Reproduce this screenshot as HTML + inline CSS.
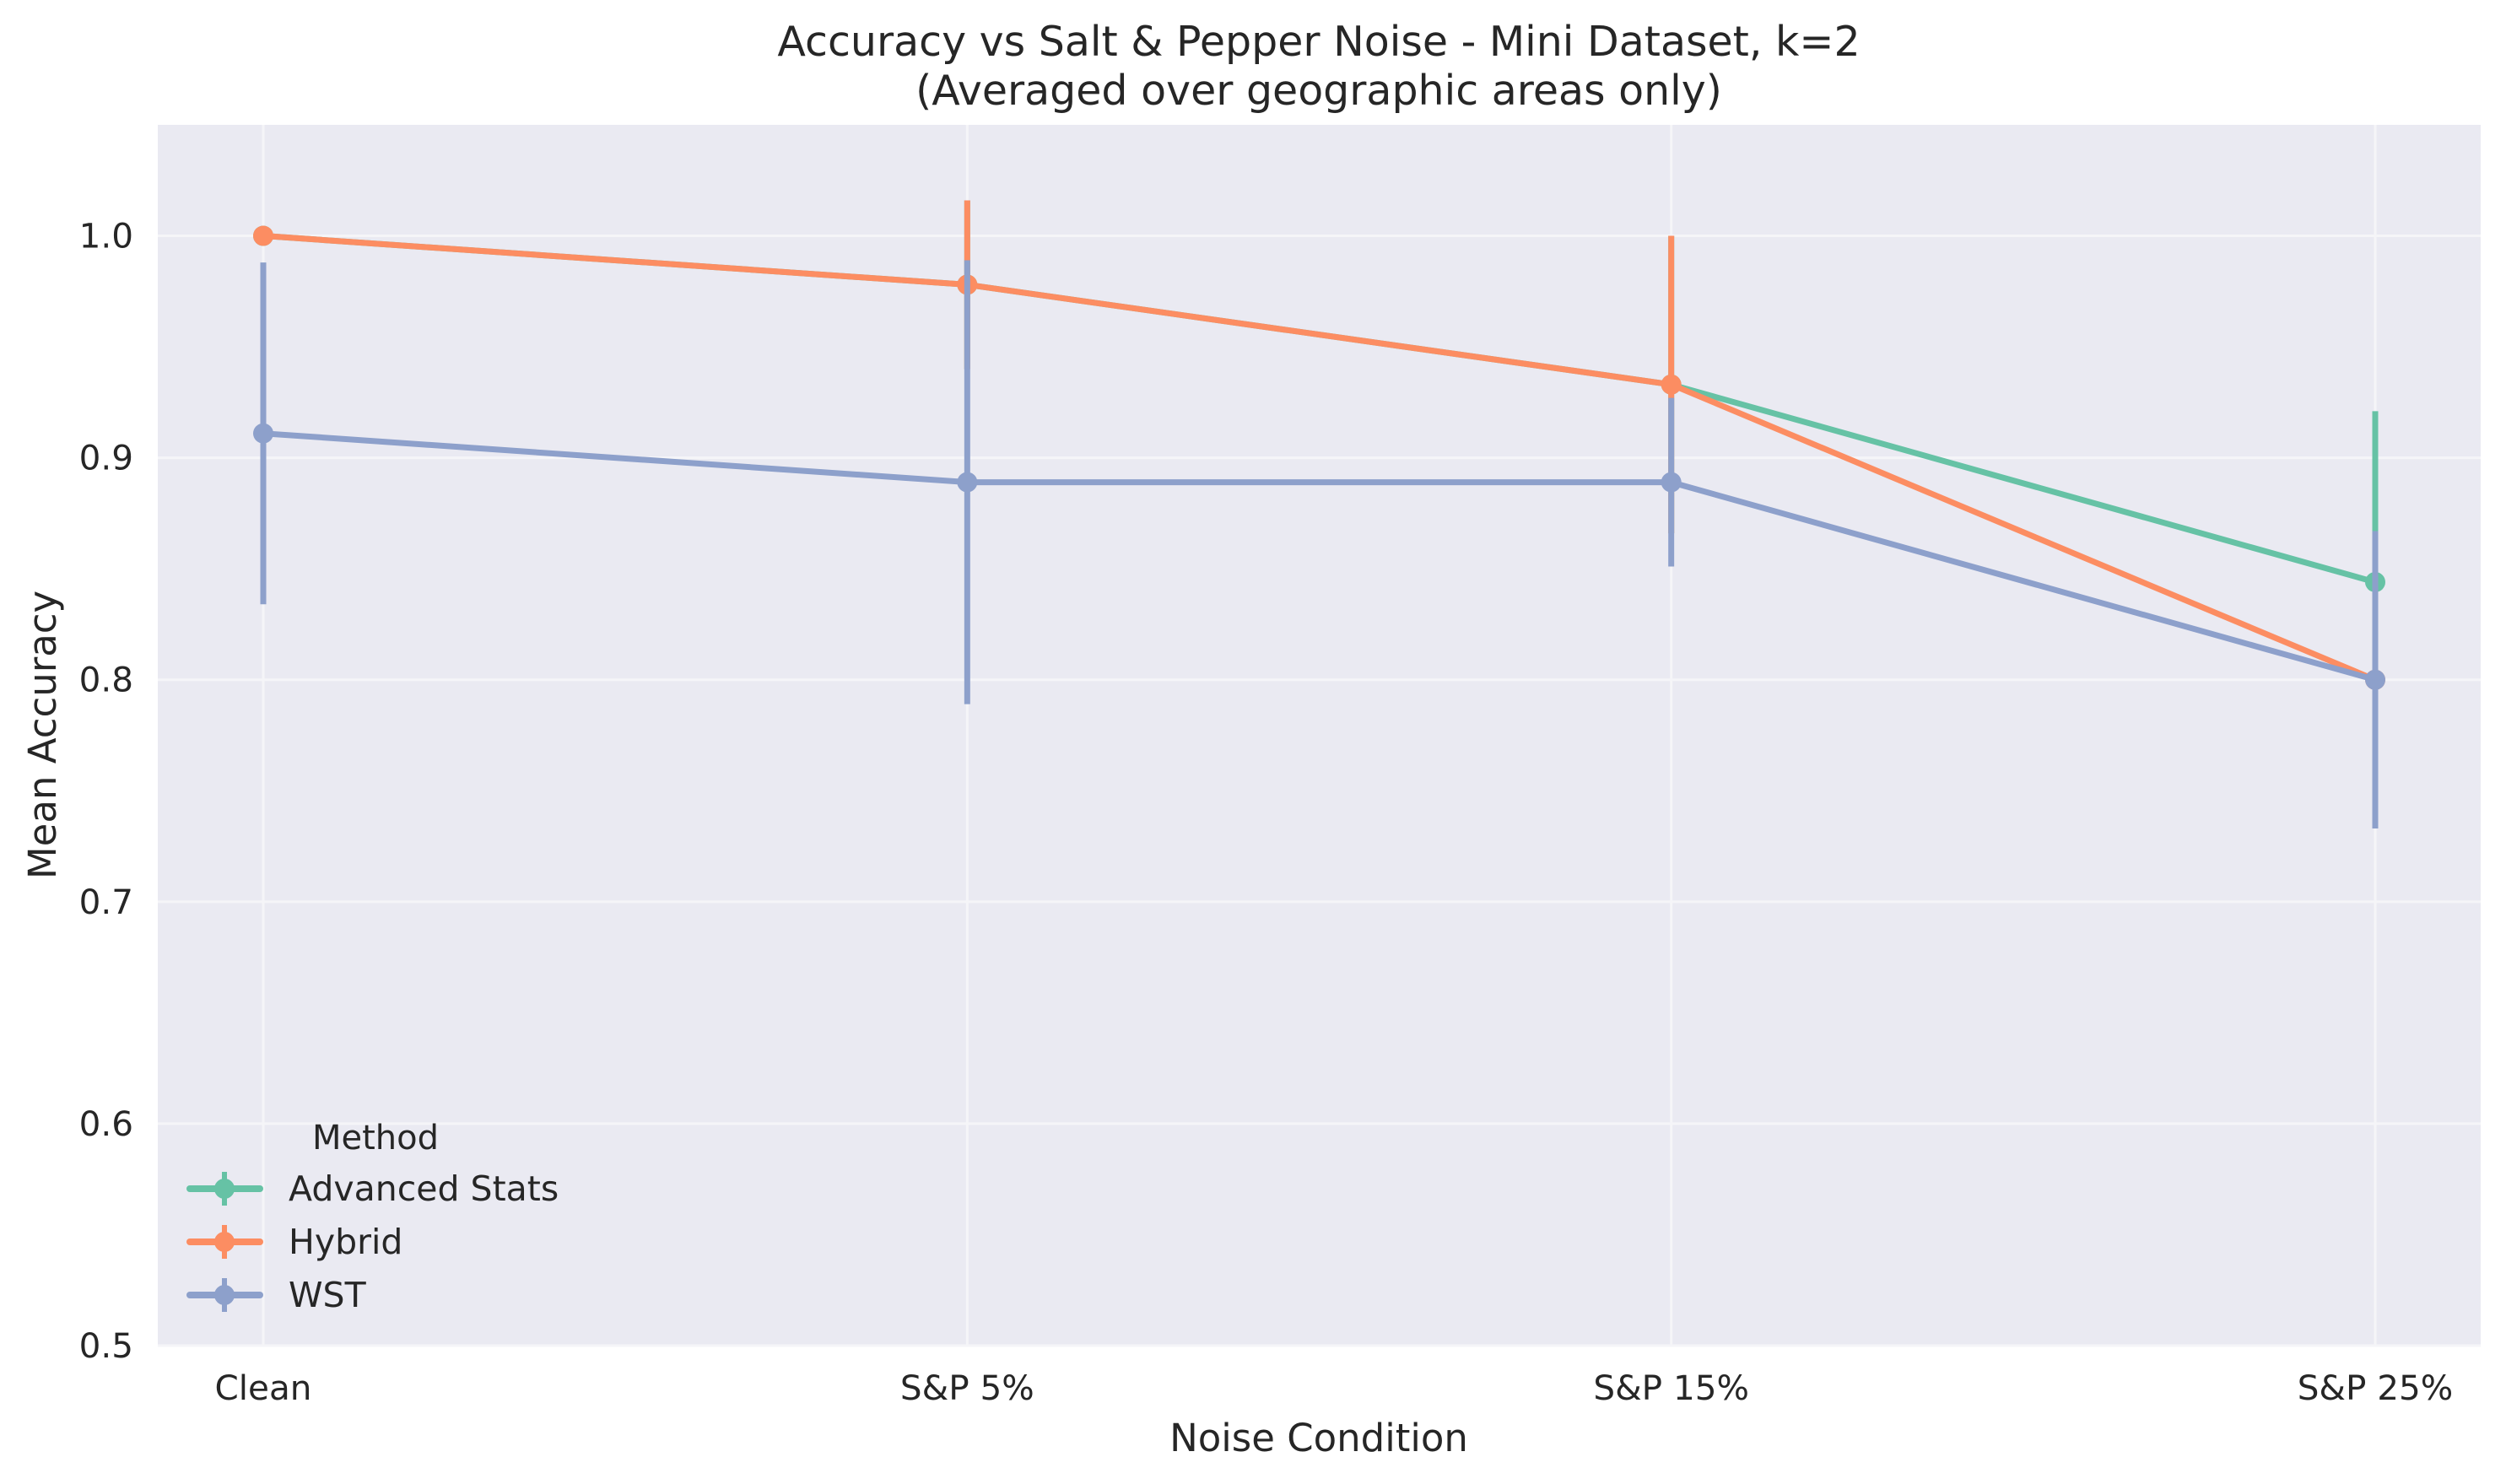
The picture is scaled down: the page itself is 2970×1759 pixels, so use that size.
<!DOCTYPE html>
<html><head><meta charset="utf-8"><style>
html,body{margin:0;padding:0;background:#fff;}
svg{display:block;font-family:"DejaVu Sans","Liberation Sans",sans-serif;}
</style></head><body>
<svg id="chart" width="2970" height="1759" viewBox="0 0 2970 1759" xmlns="http://www.w3.org/2000/svg">
<rect x="187" y="148" width="2753" height="1447" fill="#eaeaf2"/>
<g id="grid"></g>
<g id="series"></g>
<g id="ticks" fill="#262626" font-size="40.5"></g>
<text x="1563" y="66" text-anchor="middle" font-size="49" fill="#262626">Accuracy vs Salt &amp; Pepper Noise - Mini Dataset, k=2</text>
<text x="1563" y="124" text-anchor="middle" font-size="49" fill="#262626">(Averaged over geographic areas only)</text>
<text x="1563" y="1720" text-anchor="middle" font-size="45" fill="#262626">Noise Condition</text>
<text transform="translate(66,871) rotate(-90)" text-anchor="middle" font-size="45" fill="#262626">Mean Accuracy</text>
<g id="legend"></g>
</svg>
<script>
const categories = ["Clean","S&P 5%","S&P 15%","S&P 25%"];
const seriesNames = ["Advanced Stats","Hybrid","WST"];
const advMean = [1.0, 0.978, 0.933, 0.844];
const advErr = [0.0, 0.038, 0.067, 0.077];
const hybMean = [1.0, 0.978, 0.933, 0.8];
const hybErr = [0.0, 0.038, 0.067, 0.067];
const wstMean = [0.911, 0.889, 0.889, 0.8];
const wstErr = [0.077, 0.1, 0.038, 0.067];
const yTicks = [0.5, 0.6, 0.7, 0.8, 0.9, 1.0];
const yTickLabels = ["0.5","0.6","0.7","0.8","0.9","1.0"];

const colors = ["#66c2a5","#fc8d62","#8da0cb"];
const means = [advMean, hybMean, wstMean];
const errs = [advErr, hybErr, wstErr];
const NS = "http://www.w3.org/2000/svg";
const L=187,R=2940,T=148,B=1595,yMin=0.5,yMax=1.05;
const x0=312, dx=(2815-312)/3;
function xs(i){return x0+i*dx;}
function ys(v){return B-(v-yMin)/(yMax-yMin)*(B-T);}
function mk(tag,attrs,parent){const e=document.createElementNS(NS,tag);for(const k in attrs)e.setAttribute(k,attrs[k]);parent.appendChild(e);return e;}

const grid=document.getElementById('grid');
yTicks.forEach((v,i)=>{
  const g=mk('line',{x1:L,x2:R,y1:ys(v),y2:ys(v),stroke:'#f5f5f8','stroke-width':3},grid);
  
  
});
categories.forEach((c,i)=>{
  const g=mk('line',{x1:xs(i),x2:xs(i),y1:T,y2:B,stroke:'#f5f5f8','stroke-width':3},grid);
  
  
});
const ticks=document.getElementById('ticks');
yTicks.forEach((v,i)=>{
  const t=mk('text',{x:158,y:ys(v)+14,'text-anchor':'end'},ticks);
  t.textContent=yTickLabels[i];
  
  
});
categories.forEach((c,i)=>{
  const t=mk('text',{x:xs(i),y:1659,'text-anchor':'middle'},ticks);
  t.textContent=c;
  
  
});
const ser=document.getElementById('series');
means.forEach((m,s)=>{
  const g=mk('g',{},ser);
  
  
  m.forEach((v,i)=>{
    const e=mk('line',{x1:xs(i),x2:xs(i),y1:ys(v-errs[s][i]),y2:ys(v+errs[s][i]),stroke:colors[s],'stroke-width':7},g);
    
    
  });
  const pl=mk('polyline',{points:m.map((v,i)=>xs(i)+','+ys(v)).join(' '),fill:'none',stroke:colors[s],'stroke-width':7,'stroke-linejoin':'round'},g);
  
  
  m.forEach((v,i)=>{
    const c=mk('circle',{cx:xs(i),cy:ys(v),r:12,fill:colors[s]},g);
    
    
  });
});
const lg=document.getElementById('legend');
const lt=mk('text',{x:445,y:1362,'text-anchor':'middle','font-size':40,fill:'#262626'},lg);
lt.textContent='Method';


const ly=[1409,1472,1535];
seriesNames.forEach((n,s)=>{
  const g=mk('g',{},lg);
  
  
  mk('line',{x1:225,x2:308,y1:ly[s],y2:ly[s],stroke:colors[s],'stroke-width':8,'stroke-linecap':'round'},g);
  mk('line',{x1:266,x2:266,y1:ly[s]-20,y2:ly[s]+20,stroke:colors[s],'stroke-width':6},g);
  mk('circle',{cx:266,cy:ly[s],r:12,fill:colors[s]},g);
  const t=mk('text',{x:342,y:ly[s]+14,'font-size':41,fill:'#262626'},g);
  t.textContent=n;
});
</script>
</body></html>
